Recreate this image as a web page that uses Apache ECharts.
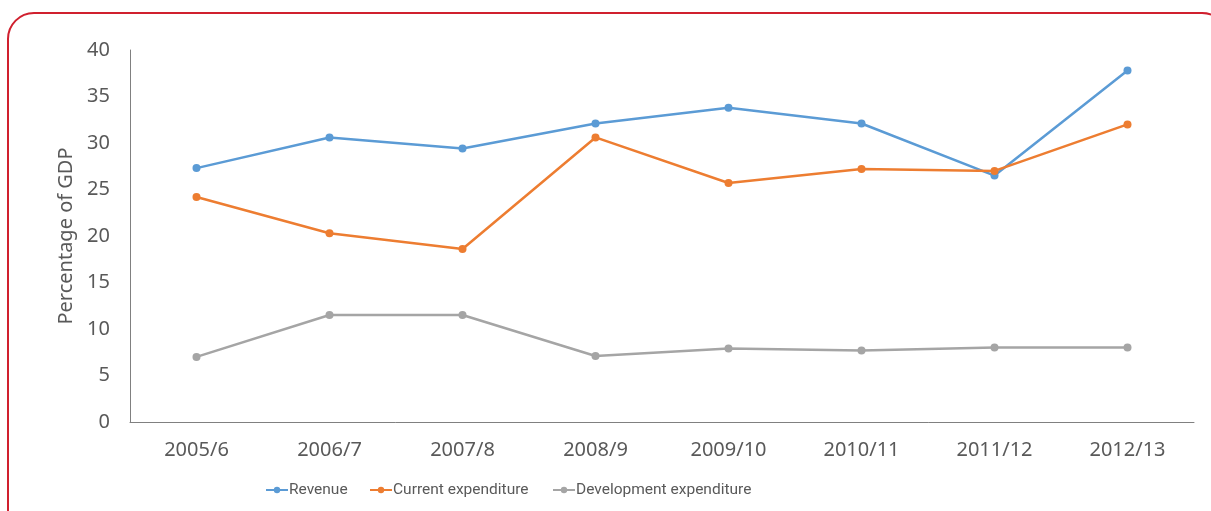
<!DOCTYPE html>
<html>
<head>
<meta charset="utf-8">
<script src="https://cdn.jsdelivr.net/npm/echarts@6/dist/echarts.min.js"></script>
<style>
  html, body { margin: 0; padding: 0; background: #fff; }
  #chart { width: 1211px; height: 511px; }
</style>
</head>
<body>
<div id="chart"></div>
<script>
// 年度
const years = ['2005/6', '2006/7', '2007/8', '2008/9', '2009/10', '2010/11', '2011/12', '2012/13']
// 占GDP比例
const revenue = [27.3, 30.6, 29.4, 32.1, 33.8, 32.1, 26.5, 37.8]
const currentExp = [24.2, 20.3, 18.6, 30.6, 25.7, 27.2, 27.0, 32.0]
const devExp = [7.0, 11.5, 11.5, 7.1, 7.9, 7.7, 8.0, 8.0]

const names = ['Revenue', 'Current expenditure', 'Development expenditure']
const colors = ['#5b9bd5', '#ed7d31', '#a5a5a5']

const font = 'Noto Sans'
const textColor = '#595959'

const myChart = echarts.init(document.getElementById('chart'))

function lineSeries(name, data, color) {
  return {
    name: name,
    type: 'line',
    data: data,
    symbol: 'circle',
    symbolSize: 8,
    lineStyle: { color: color, width: 2.5 },
    itemStyle: { color: color },
  }
}

// 每个图例单独放置，贴近原图位置
const legendLeft = [265, 369, 552]
const legends = names.map((n, i) => ({
  top: 482,
  left: legendLeft[i],
  padding: 0,
  itemWidth: 22,
  itemHeight: 8,
  textStyle: {
    fontFamily: 'Roboto',
    fontSize: 15.5,
    color: textColor,
    padding: [0, 0, 0, -4],
  },
  data: [n],
}))

const option = {
  animation: false,
  textStyle: { fontFamily: font },
  // 外框
  graphic: [
    {
      type: 'rect',
      shape: { x: 8, y: 13, width: 1220, height: 530, r: 26 },
      style: { fill: 'none', stroke: '#d0202e', lineWidth: 2 },
      z: -1,
    },
  ],
  grid: {
    left: 130,
    right: 17,
    top: 50,
    bottom: 89,
  },
  legend: legends,
  xAxis: {
    type: 'category',
    data: years,
    boundaryGap: true,
    axisLine: { lineStyle: { color: '#808080', width: 1 } },
    axisTick: { show: false },
    axisLabel: { color: textColor, fontSize: 20, margin: 18, fontFamily: font },
  },
  yAxis: {
    type: 'value',
    min: 0,
    max: 40,
    interval: 5,
    name: 'Percentage of GDP',
    nameLocation: 'middle',
    nameGap: 54,
    nameTextStyle: { color: textColor, fontSize: 20, fontFamily: font },
    axisLine: { show: true, lineStyle: { color: '#808080', width: 1 } },
    axisTick: { show: false },
    splitLine: { show: false },
    axisLabel: { color: textColor, fontSize: 20, margin: 20, fontFamily: font },
  },
  series: [
    lineSeries(names[0], revenue, colors[0]),
    lineSeries(names[1], currentExp, colors[1]),
    lineSeries(names[2], devExp, colors[2]),
  ],
}

myChart.setOption(option)
</script>
</body>
</html>
